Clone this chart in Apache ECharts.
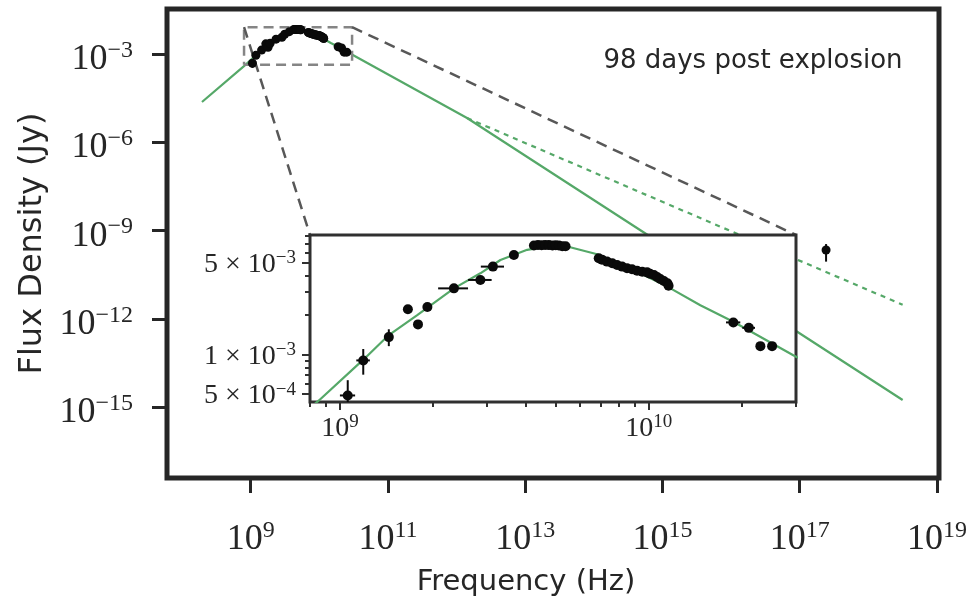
<!DOCTYPE html>
<html><head><meta charset="utf-8">
<script src="https://cdn.jsdelivr.net/npm/echarts@6/dist/echarts.min.js"></script>
<style>html,body{margin:0;padding:0;background:#fff}#c{width:976px;height:607px}</style>
</head><body><div id="c"></div>
<script>
// ---------------- data ----------------
const mainXLim = [6.03e7, 1.07e19];
const mainYLim = [3.9e-18, 3.39e-2];
const insetXLim = [8.0e8, 3.0e10];
const insetYLim = [4.35e-4, 8.17e-3];

const mainXTicks = [1e9, 1e11, 1e13, 1e15, 1e17, 1e19];
const mainYTicks = [1e-15, 1e-12, 1e-9, 1e-6, 1e-3];
const insetXTicks = [1e9, 1e10];
const insetXMinorTicks = [8e8, 9e8, 2e9, 3e9, 4e9, 5e9, 6e9, 7e9, 8e9, 9e9, 2e10, 3e10];
const insetYTicks = [5e-4, 1e-3, 5e-3];
const insetYMinorTicks = [6e-4, 7e-4, 8e-4, 9e-4, 2e-3, 3e-3, 4e-3, 6e-3, 7e-3, 8e-3];

const radioFreq = [1.06e9, 1.19e9, 1.44e9, 1.66e9, 1.79e9, 1.92e9, 2.34e9, 2.85e9, 3.13e9, 3.66e9,
  4.25e9, 4.38e9, 4.50e9, 4.62e9, 4.75e9, 4.88e9, 5.00e9, 5.12e9, 5.25e9, 5.38e9,
  6.89e9, 7.06e9, 7.33e9, 7.62e9, 7.90e9, 8.20e9, 8.51e9, 8.83e9, 9.17e9, 9.53e9, 9.88e9,
  1.01e10, 1.04e10, 1.065e10, 1.09e10, 1.12e10, 1.15e10, 1.16e10,
  1.88e10, 2.11e10, 2.30e10, 2.51e10];
const radioFlux = [4.88e-4, 9.03e-4, 1.36e-3, 2.22e-3, 1.70e-3, 2.31e-3, 3.20e-3, 3.71e-3, 4.69e-3, 5.75e-3,
  6.80e-3, 6.85e-3, 6.82e-3, 6.86e-3, 6.84e-3, 6.80e-3, 6.83e-3, 6.79e-3, 6.72e-3, 6.70e-3,
  5.43e-3, 5.30e-3, 5.12e-3, 4.98e-3, 4.83e-3, 4.69e-3, 4.55e-3, 4.48e-3, 4.36e-3, 4.29e-3, 4.24e-3,
  4.14e-3, 4.05e-3, 3.91e-3, 3.77e-3, 3.64e-3, 3.50e-3, 3.35e-3,
  1.76e-3, 1.60e-3, 1.16e-3, 1.16e-3];
const radioFreqErr = [0.06e9, 0.06e9, 0, 0, 0, 0, 0.26e9, 0.25e9, 0.27e9, 0,
  0, 0, 0, 0, 0, 0, 0, 0, 0, 0,
  0, 0, 0, 0, 0, 0, 0, 0, 0, 0, 0,
  0, 0, 0, 0, 0, 0, 0,
  0.1e10, 0.1e10, 0.06e10, 0.06e10];
const radioFluxErr = [1.5e-4, 2.0e-4, 2.0e-4, 0, 0, 0, 0, 0, 0, 0,
  0, 0, 0, 3e-4, 0, 0, 0, 0, 0, 0,
  0, 0, 0, 0, 0, 0, 0, 0, 0, 0, 0,
  0, 0, 0, 0, 0, 0, 0,
  0, 0, 0, 0];

const xrayFreq = [2.42e17];
const xrayFlux = [2.18e-10];
const xrayFluxErr = [1.3e-10];

const modelFreq = [1.95e8, 8.55e8, 1.20e9, 1.44e9, 1.78e9, 2.34e9, 2.85e9, 3.31e9, 4.04e9, 4.81e9,
  5.45e9, 6.81e9, 8.93e9, 1.15e10, 1.47e10, 1.88e10, 2.94e10, 1.42e12, 3.16e18];
const modelFlux = [2.34e-5, 4.47e-4, 9.31e-4, 1.41e-3, 2.00e-3, 3.20e-3, 4.17e-3, 5.27e-3, 6.30e-3, 6.75e-3,
  6.67e-3, 5.83e-3, 4.42e-3, 3.30e-3, 2.38e-3, 1.78e-3, 9.89e-4, 6.68e-6, 1.75e-15];
const coolFreq = [1.42e12, 3.16e18];
const coolFlux = [6.68e-6, 3.0e-12];

const xLabel = 'Frequency (Hz)';
const yLabel = 'Flux Density (Jy)';
const annotation = '98 days post explosion';

// ---------------- helpers ----------------
const INK = '#262626';
const GREEN = '#55a868';
const MINUS = '\u2212';
function expStr(e) { return e < 0 ? MINUS + (-e) : String(e); }
function powLabel(v) {
  const e = Math.round(Math.log10(v));
  return '{a|10}{b|' + expStr(e) + '}';
}
function sciLabel(v) {
  const e = Math.floor(Math.log10(v) + 1e-9);
  const m = Math.round(v / Math.pow(10, e));
  return '{a|' + m + ' \u00d7 10}{b|' + expStr(e) + '}';
}
const zip = (a, b) => a.map((v, i) => [v, b[i]]);

const ptsData = radioFreq.map((f, i) => [f, radioFlux[i], f - radioFreqErr[i], f + radioFreqErr[i],
  radioFlux[i] - radioFluxErr[i], radioFlux[i] + radioFluxErr[i]]);
const xrayData = xrayFreq.map((f, i) => [f, xrayFlux[i], f, f, xrayFlux[i] - xrayFluxErr[i], xrayFlux[i] + xrayFluxErr[i]]);

function errRender(params, api) {
  const x = api.value(0), y = api.value(1);
  const xl = api.value(2), xh = api.value(3), yl = api.value(4), yh = api.value(5);
  const style = { stroke: '#0a0a0a', lineWidth: 2 };
  const ch = [];
  if (xl !== xh) {
    const a = api.coord([xl, y]), b = api.coord([xh, y]);
    ch.push({ type: 'line', shape: { x1: a[0], y1: a[1], x2: b[0], y2: b[1] }, style });
  }
  if (yl !== yh) {
    const a = api.coord([x, yl]), b = api.coord([x, yh]);
    ch.push({ type: 'line', shape: { x1: a[0], y1: a[1], x2: b[0], y2: b[1] }, style });
  }
  return { type: 'group', children: ch };
}

const mainRich = {
  a: { fontFamily: 'Liberation Serif', fontSize: 36, lineHeight: 42, color: INK },
  b: { fontFamily: 'Liberation Serif', fontSize: 24, lineHeight: 24, verticalAlign: 'top', color: INK }
};
const insetRich = {
  a: { fontFamily: 'Liberation Serif', fontSize: 28, lineHeight: 32, color: INK },
  b: { fontFamily: 'Liberation Serif', fontSize: 19, lineHeight: 19, verticalAlign: 'top', color: INK }
};

function axisBase(gridIndex, lim, z) {
  return { type: 'log', gridIndex, min: lim[0], max: lim[1], z,
    axisLine: { show: false }, splitLine: { show: false }, minorTick: { show: false } };
}

const mainGrid = { left: 167, top: 9, width: 772, height: 469 };
const insetGrid = { left: 310, top: 235, width: 486, height: 167 };

const option = {
  animation: false,
  backgroundColor: '#fff',
  grid: [
    Object.assign({ show: true, backgroundColor: '#fff', borderColor: INK, borderWidth: 5, z: 0 }, mainGrid),
    Object.assign({ show: true, backgroundColor: '#fff', borderColor: '#303030', borderWidth: 3, z: 10 }, insetGrid)
  ],
  xAxis: [
    Object.assign(axisBase(0, mainXLim, 0), {
      position: 'bottom',
      name: xLabel, nameLocation: 'middle', nameGap: 90,
      nameTextStyle: { fontFamily: 'DejaVu Sans', fontSize: 29, color: INK, padding: [0, 54, 0, 0] },
      axisTick: { show: true, inside: false, length: 15, lineStyle: { width: 3, color: INK }, customValues: mainXTicks },
      axisLabel: { show: true, margin: 41, customValues: mainXTicks, formatter: powLabel, rich: mainRich }
    }),
    Object.assign(axisBase(1, insetXLim, 12), {
      position: 'bottom',
      axisTick: { show: true, inside: false, length: 8, lineStyle: { width: 2, color: '#303030' }, customValues: insetXTicks },
      axisLabel: { show: true, margin: 11, customValues: insetXTicks, formatter: powLabel, rich: insetRich }
    }),
    Object.assign(axisBase(1, insetXLim, 12), {
      position: 'bottom',
      axisTick: { show: true, inside: false, length: 5, lineStyle: { width: 2, color: '#303030' }, customValues: insetXMinorTicks },
      axisLabel: { show: false }
    })
  ],
  yAxis: [
    Object.assign(axisBase(0, mainYLim, 0), {
      position: 'left',
      name: yLabel, nameLocation: 'middle', nameGap: 118,
      nameTextStyle: { fontFamily: 'DejaVu Sans', fontSize: 32, color: INK },
      axisTick: { show: true, inside: false, length: 15, lineStyle: { width: 3, color: INK }, customValues: mainYTicks },
      axisLabel: { show: true, margin: 34, padding: [11, 0, 0, 0], customValues: mainYTicks, formatter: powLabel, rich: mainRich }
    }),
    Object.assign(axisBase(1, insetYLim, 12), {
      position: 'left',
      axisTick: { show: true, inside: false, length: 8, lineStyle: { width: 2, color: '#303030' }, customValues: insetYTicks },
      axisLabel: { show: true, margin: 14, padding: [4, 0, 0, 0], customValues: insetYTicks, formatter: sciLabel, rich: insetRich }
    }),
    Object.assign(axisBase(1, insetYLim, 12), {
      position: 'left',
      axisTick: { show: true, inside: false, length: 5, lineStyle: { width: 2, color: '#303030' }, customValues: insetYMinorTicks },
      axisLabel: { show: false }
    })
  ],
  graphic: [{
    type: 'text', x: 753, y: 61, z: 20,
    style: { text: annotation, align: 'center', verticalAlign: 'middle', fontFamily: 'DejaVu Sans', fontSize: 26, fill: INK }
  }],
  series: [
    { id: 'model', type: 'line', xAxisIndex: 0, yAxisIndex: 0, data: zip(modelFreq, modelFlux), showSymbol: false, symbol: 'none',
      lineStyle: { color: GREEN, width: 2.2 }, z: 2, silent: true },
    { id: 'cool', type: 'line', xAxisIndex: 0, yAxisIndex: 0, data: zip(coolFreq, coolFlux), symbol: 'none',
      lineStyle: { color: GREEN, width: 2.2, type: [5, 5] }, z: 2, silent: true },
    { id: 'rect', type: 'line', xAxisIndex: 0, yAxisIndex: 0, symbol: 'none', silent: true, z: 3,
      data: [[insetXLim[0], insetYLim[0]], [insetXLim[1], insetYLim[0]], [insetXLim[1], insetYLim[1]],
             [insetXLim[0], insetYLim[1]], [insetXLim[0], insetYLim[0]]],
      lineStyle: { color: '#858585', width: 2.5, type: [10, 6] } },
    { id: 'connL', type: 'line', xAxisIndex: 0, yAxisIndex: 0, symbol: 'none', silent: true, z: 3, data: [],
      lineStyle: { color: '#585858', width: 2.5, type: [11, 7] } },
    { id: 'connR', type: 'line', xAxisIndex: 0, yAxisIndex: 0, symbol: 'none', silent: true, z: 3, data: [],
      lineStyle: { color: '#585858', width: 2.5, type: [11, 7] } },
    { id: 'mainErr', type: 'custom', xAxisIndex: 0, yAxisIndex: 0, renderItem: errRender,
      data: ptsData.concat(xrayData), encode: { x: 0, y: 1 }, z: 4, silent: true },
    { id: 'mainPts', type: 'scatter', xAxisIndex: 0, yAxisIndex: 0, symbolSize: 9,
      data: ptsData.concat(xrayData).map(d => [d[0], d[1]]), itemStyle: { color: '#0a0a0a', opacity: 1 }, z: 4, silent: true },
    { id: 'insetModel', type: 'line', xAxisIndex: 1, yAxisIndex: 1, data: zip(modelFreq, modelFlux), symbol: 'none', clip: true,
      lineStyle: { color: GREEN, width: 2.2 }, z: 11, silent: true },
    { id: 'insetErr', type: 'custom', xAxisIndex: 1, yAxisIndex: 1, renderItem: errRender, clip: true,
      data: ptsData, encode: { x: 0, y: 1 }, z: 12, silent: true },
    { id: 'insetPts', type: 'scatter', xAxisIndex: 1, yAxisIndex: 1, symbolSize: 10, clip: true,
      data: ptsData.map(d => [d[0], d[1]]), itemStyle: { color: '#0a0a0a', opacity: 1 }, z: 13, silent: true }
  ]
};

const chart = echarts.init(document.getElementById('c'), null, { renderer: 'canvas' });
chart.setOption(option);

// connectors from the zoom box corners to the inset's upper corners (via the library's coordinate transforms)
try {
  const tl = chart.convertToPixel({ xAxisIndex: 1, yAxisIndex: 1 }, [insetXLim[0], insetYLim[1]]);
  const tr = chart.convertToPixel({ xAxisIndex: 1, yAxisIndex: 1 }, [insetXLim[1], insetYLim[1]]);
  const tlMain = chart.convertFromPixel({ xAxisIndex: 0, yAxisIndex: 0 }, tl);
  const trMain = chart.convertFromPixel({ xAxisIndex: 0, yAxisIndex: 0 }, tr);
  chart.setOption({ series: [
    { id: 'connL', data: [[insetXLim[0], insetYLim[1]], tlMain] },
    { id: 'connR', data: [[insetXLim[1], insetYLim[1]], trMain] }
  ] });
} catch (e) { console.error(e); }
</script></body></html>
